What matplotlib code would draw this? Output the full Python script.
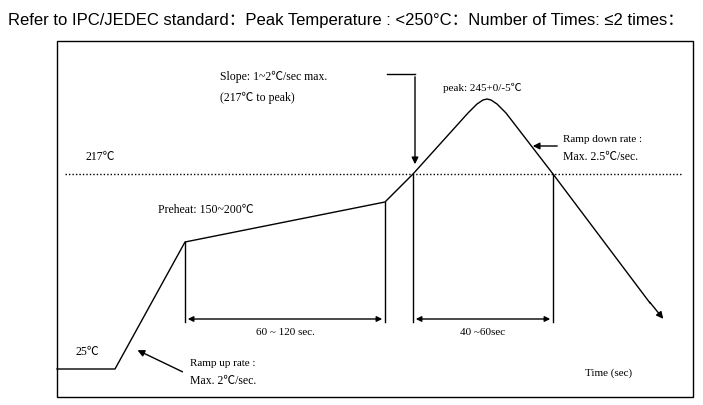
import matplotlib.pyplot as plt
from matplotlib.patches import FancyArrowPatch, Rectangle

# Schematic reflow profile, in picture coordinates (x right, y down)
profile_x = [57, 115, 185, 385, 413, 468, 477, 483, 487, 491, 497, 506, 553, 650]
profile_y = [370, 370, 243, 203, 175, 114, 105, 101, 100, 101, 105, 114, 175, 304]
line_217_y = 175
markers_x = [185, 385, 413, 553]
markers_top = [243, 203, 175, 175]
span_y = 320
spans = [(185, 385, "60 ~ 120 sec."), (413, 553, "40 ~60sec")]

serif = ["Liberation Serif", "Noto Sans CJK SC"]

fig = plt.figure(figsize=(7.03, 4.06), dpi=100)
ax = fig.add_axes([0, 0, 1, 1])
ax.set_xlim(0, 703)
ax.set_ylim(406, 0)
ax.axis("off")

fig.text(8 / 703, 1 - 20 / 406,
         "Refer to IPC/JEDEC standard：Peak Temperature : <250°C：Number of Times: ≤2 times：",
         family=["Liberation Sans", "Noto Sans CJK SC"], fontsize=12, va="center")

ax.add_patch(Rectangle((57, 42), 636, 356, fill=False, lw=1, ec="black"))

ax.plot(profile_x, profile_y, color="black", lw=1)
ax.annotate("", xy=(665, 322), xytext=(648, 301),
            arrowprops=dict(arrowstyle="-|>", color="black", lw=1, mutation_scale=10))

ax.plot([65, 683], [line_217_y, line_217_y], color="black", lw=1, ls=(0, (1, 1.5)))

for x, top in zip(markers_x, markers_top):
    ax.plot([x, x], [top, span_y + 3], color="black", lw=1)

for x0, x1, label in spans:
    ax.add_patch(FancyArrowPatch((x0, span_y), (x1, span_y), arrowstyle="<|-|>",
                                 mutation_scale=8, color="black", lw=1))
    ax.text((x0 + x1) / 2, span_y + 13, label, family=serif, fontsize=8, ha="center", va="center")

fs = 8.5
ax.text(85, 157, "217℃", family=serif, fontsize=fs, va="center")
ax.text(158, 210, "Preheat: 150~200℃", family=serif, fontsize=fs, va="center")
ax.text(75, 352, "25℃", family=serif, fontsize=fs, va="center")
ax.text(190, 364, "Ramp up rate :", family=serif, fontsize=8, va="center")
ax.text(190, 381, "Max. 2℃/sec.", family=serif, fontsize=fs, va="center")
ax.annotate("", xy=(135, 350), xytext=(185, 374),
            arrowprops=dict(arrowstyle="-|>", color="black", lw=1, mutation_scale=10))
ax.text(220, 77, "Slope: 1~2℃/sec max.", family=serif, fontsize=fs, va="center")
ax.text(220, 98, "(217℃ to peak)", family=serif, fontsize=fs, va="center")
ax.plot([387, 415], [75, 75], color="black", lw=1)
ax.annotate("", xy=(415, 168), xytext=(415, 75),
            arrowprops=dict(arrowstyle="-|>", color="black", lw=1, mutation_scale=10))
ax.text(443, 88, "peak: 245+0/-5℃", family=serif, fontsize=8, va="center")
ax.text(563, 140, "Ramp down rate :", family=serif, fontsize=8, va="center")
ax.text(563, 157, "Max. 2.5℃/sec.", family=serif, fontsize=fs, va="center")
ax.annotate("", xy=(530, 147), xytext=(560, 147),
            arrowprops=dict(arrowstyle="-|>", color="black", lw=1, mutation_scale=10))
ax.text(585, 373, "Time (sec)", family=serif, fontsize=8, va="center")

fig.savefig("out.png", dpi=100)
